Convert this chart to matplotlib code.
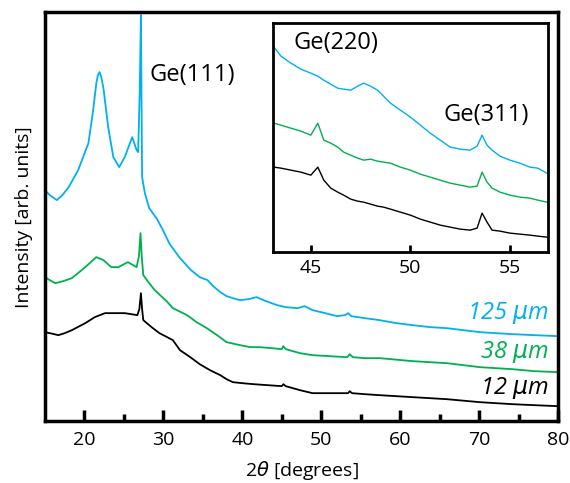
import numpy as np
import matplotlib.pyplot as plt

# main panel: 2theta [deg] and intensity (arb. units)
tt_blue = [15.0, 15.6, 16.5, 17.2, 18.0, 19.2, 20.5, 21.1, 21.5, 21.7, 21.9, 22.1, 22.4, 23.0, 23.65, 24.4, 25.1,
           26.05, 26.6, 26.8, 27.0, 27.15, 27.3, 27.65, 28.2, 29.2, 30.0, 30.8, 32.1, 33.5, 34.6, 35.6, 36.3,
           37.2, 38.0, 38.8, 39.7, 40.8, 41.8, 43.0, 44.4, 45.5, 47.0, 47.9, 48.9, 50.5, 52.0, 53.0, 53.4,
           53.8, 55.5, 57.4, 59.5, 61.6, 63.8, 65.9, 68.0, 70.1, 72.1, 74.2, 77.0, 80.0]
i_blue = [231, 226, 221, 226, 234, 251, 278, 311, 338, 346, 349, 345, 333, 294, 264, 254, 264,
          284, 271, 269, 330, 406, 244, 228, 213, 202, 190, 177, 163, 151, 144, 141, 135,
          129, 125, 123, 121, 122, 124, 120, 116, 114, 113, 115, 111, 108, 105, 106, 108,
          105, 103, 101, 98, 96, 94, 93, 91, 89, 88, 87, 86, 85]

tt_green = [15.0, 15.6, 16.3, 17.3, 18.4, 20.1, 21.5, 22.4, 23.4, 24.3, 25.5, 26.6, 26.9, 27.1,
            27.25, 27.45, 28.0, 28.9, 30.4, 31.2, 33.0, 34.2, 35.5, 36.8, 38.0, 39.7, 41.0, 42.2,
            43.7, 45.0, 45.2, 45.5, 47.3, 48.9, 51.0, 53.3, 53.6, 54.0, 55.5, 57.4, 61.6, 65.9, 70.1,
            74.2, 77.0, 80.0]
i_green = [144, 141, 138, 140, 143, 154, 164, 161, 154, 154, 159, 154, 165, 188,
           165, 146, 140, 131, 120, 113, 106, 99, 93, 86, 79, 76, 74, 74,
           73, 72, 75, 72, 68, 66, 65, 64, 67, 64, 63, 63, 60, 58, 54,
           52, 50, 49]

tt_black = [15.0, 15.6, 16.7, 17.5, 18.4, 20.1, 21.3, 22.6, 24.0, 25.1, 26.7, 26.95, 27.15, 27.3,
            27.45, 28.5, 29.5, 31.2, 32.1, 33.4, 34.6, 35.9, 37.2, 38.0, 38.8, 40.0, 41.4, 43.2, 45.0,
            45.2, 45.5, 47.3, 48.9, 51.0, 53.4, 53.6, 53.9, 55.5, 57.4, 61.6, 65.9, 70.1, 74.2, 77.0, 80.0]
i_black = [89, 88, 86, 88, 91, 98, 104, 108, 108, 108, 106, 112, 128, 112,
           101, 94, 88, 81, 71, 64, 57, 51, 46, 42, 39, 38, 37, 36, 35,
           37, 35, 31, 28, 28, 28, 30, 28, 27, 26, 24, 22, 19, 17, 16, 15]

# inset: 2theta 43-57 zoom, own intensity scale
tt_in = [43.15, 43.5, 44.0, 44.5, 45.0, 45.35, 45.65, 46.0, 46.35, 46.65, 47.0, 47.35, 47.65, 48.0, 48.35, 48.65,
         49.0, 49.5, 50.0, 50.5, 51.0, 51.5, 52.0, 52.5, 53.0, 53.35, 53.6, 53.85, 54.1, 54.5, 55.0, 55.5,
         56.0, 56.4, 56.85]
in_blue = [205, 196, 189, 183, 179, 176, 172, 168, 164, 163, 162, 166, 169, 166, 162, 156,
           149, 142, 135, 127, 119, 112, 105, 103, 102, 106, 117, 107, 102, 96, 92, 89,
           85, 84, 79]
in_green = [129, 127, 124, 121, 117, 129, 112, 109, 105, 100, 97, 94, 92, 93, 91, 90,
            89, 85, 82, 78, 75, 72, 69, 67, 65, 66, 80, 70, 64, 60, 57, 55,
            54, 52, 50]
in_black = [85, 84, 82, 80, 77, 85, 72, 64, 60, 57, 53, 51, 50, 48, 46, 45,
            43, 40, 37, 33, 30, 27, 25, 23, 22, 24, 39, 30, 22, 21, 19, 18,
            17, 16, 15]

c_blue = '#00B0F0'
c_green = '#00B050'
c_black = 'black'

plt.rcParams['font.family'] = ['Open Sans', 'DejaVu Sans']

fig = plt.figure(figsize=(5.7, 4.83), dpi=100)
ax = fig.add_axes([0.079, 0.128, 0.900, 0.847])
ax.plot(tt_blue, i_blue, color=c_blue, lw=1.3)
ax.plot(tt_green, i_green, color=c_green, lw=1.3)
ax.plot(tt_black, i_black, color=c_black, lw=1.3)
ax.set_xlim(15, 80)
ax.set_ylim(0, 409)
ax.set_yticks([])
ax.set_xticks([20, 30, 40, 50, 60, 70, 80])
ax.set_xticks([25, 35, 45, 55, 65, 75], minor=True)
ax.tick_params(axis='x', which='major', direction='in', length=8, width=2.5, labelsize=14, pad=7)
ax.tick_params(axis='x', which='minor', direction='in', length=5, width=2.5)
for s in ax.spines.values():
    s.set_linewidth(2.5)
ax.set_xlabel(r'2$\theta$ [degrees]', fontsize=14, labelpad=7)
ax.set_ylabel('Intensity [arb. units]', fontsize=14, labelpad=9)

ax.text(28.3, 346, 'Ge(111)', fontsize=17, va='center')
ax.text(78.8, 108, r'125 $\mu$m', color=c_blue, fontsize=17, style='italic', ha='right', va='center')
ax.text(78.8, 69, r'38 $\mu$m', color=c_green, fontsize=17, style='italic', ha='right', va='center')
ax.text(78.8, 33, r'12 $\mu$m', color=c_black, fontsize=17, style='italic', ha='right', va='center')

# inset
axi = fig.add_axes([0.479, 0.478, 0.482, 0.474])
axi.plot(tt_in, in_blue, color=c_blue, lw=1.0)
axi.plot(tt_in, in_green, color=c_green, lw=1.0)
axi.plot(tt_in, in_black, color=c_black, lw=1.0)
axi.set_xlim(43.1, 56.9)
axi.set_ylim(0, 229)
axi.set_yticks([])
axi.set_xticks([45, 50, 55])
axi.tick_params(axis='x', direction='in', length=5, width=2, labelsize=14, pad=5)
for s in axi.spines.values():
    s.set_linewidth(2)
axi.text(0.073, 0.913, 'Ge(220)', transform=axi.transAxes, fontsize=17, va='center')
axi.text(0.62, 0.60, 'Ge(311)', transform=axi.transAxes, fontsize=17, va='center')

fig.savefig('out.png', dpi=100)
